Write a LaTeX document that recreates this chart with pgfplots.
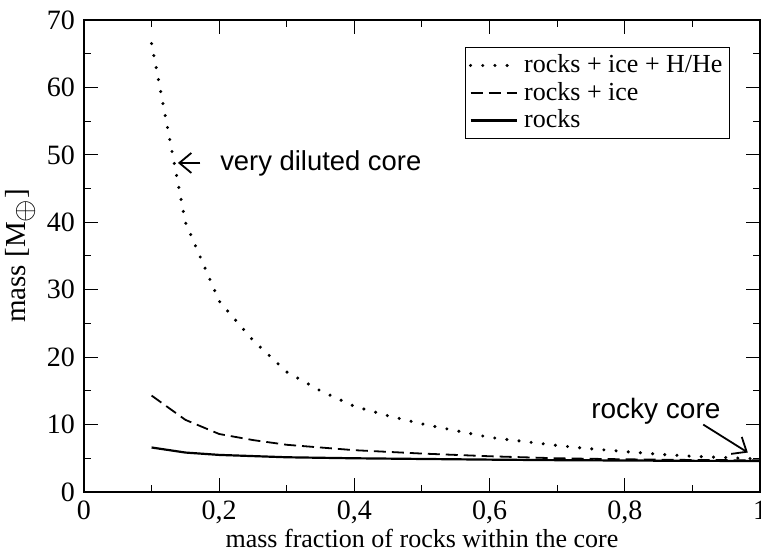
\documentclass[border=0pt]{standalone}
\usepackage{fontspec}
\setmainfont{Liberation Serif}
\newfontfamily\arialf{Liberation Sans}
\usepackage{pgfplots}
\pgfplotsset{compat=1.18}
\usetikzlibrary{calc,arrows.meta}

% mass of the core vs rock fraction
\pgfplotstableread{
x     y
0.10  66.5
0.15  40.0
0.20  28.3
0.25  22.5
0.30  17.8
0.35  15.0
0.40  12.7
0.45  11.3
0.50  10.1
0.55   9.1
0.60   8.1
0.65   7.5
0.70   6.9
0.75   6.4
0.80   6.0
0.85   5.6
0.90   5.3
0.95   5.1
1.00   4.9
}\hhe
\pgfplotstableread{
x     y
0.10  14.3
0.15  10.7
0.20   8.6
0.25   7.7
0.30   7.0
0.40   6.2
0.50   5.7
0.60   5.3
0.70   5.0
0.80   4.85
0.90   4.75
1.00   4.7
}\ice
\pgfplotstableread{
x     y
0.10  6.6
0.15  5.85
0.20  5.5
0.30  5.15
0.40  5.0
0.50  4.9
0.60  4.8
0.70  4.72
0.80  4.67
0.90  4.62
1.00  4.6
}\rocks

\begin{document}
\fontsize{13}{15.6}\selectfont
\begin{tikzpicture}
\begin{axis}[
  scale only axis, width=338pt, height=236pt,
  xmin=0, xmax=1, ymin=0, ymax=70,
  xtick={0,0.2,0.4,0.6,0.8,1}, ytick={0,10,...,70},
  minor x tick num=1, minor y tick num=1,
  tick align=inside,
  major tick length=7pt, minor tick length=3.5pt,
  every tick/.style={black, line width=0.5pt},
  axis line style={line width=1pt},
  /pgf/number format/assume math mode=true,
  /pgf/number format/use comma,
  tick label style={font=\fontsize{14}{16}\selectfont},
  x tick label style={/pgf/number format/fixed},
  xlabel={mass fraction of rocks within the core},
  ylabel={mass [M$_{\textstyle\oplus}$]},
  xlabel style={yshift=6.5pt},
  ylabel style={yshift=-3pt, font=\fontsize{14.5}{16}\selectfont},
  legend cell align=left,
  legend style={at={(1,1)}, anchor=north east, xshift=-15pt, yshift=-13.5pt,
    draw=black, line width=0.5pt, inner sep=1.5pt, row sep=-1.2pt,
    font=\fontsize{13}{14.5}\selectfont,
    /tikz/every odd column/.append style={column sep=1pt}},
  legend image code/.code={\draw[#1] (0pt,0pt) -- (23pt,0pt);},
]
\addplot[black, line width=1.7pt, line cap=round, dash pattern=on 0pt off 6.1pt] table[x=x,y=y] {\hhe};
\addlegendentry{rocks + ice + H/He}
\addplot[black, line width=0.9pt, dash pattern=on 6pt off 3pt] table[x=x,y=y] {\ice};
\addlegendentry{rocks + ice}
\addplot[black, line width=1.1pt] table[x=x,y=y] {\rocks};
\addlegendentry{rocks}

\draw[line width=0.9pt, -{Straight Barb[length=6pt,width=10pt]}] (axis cs:0.172,48.8) -- (axis cs:0.139,48.8);
\node[anchor=west, font=\arialf\fontsize{13.7}{16}\selectfont, inner sep=0pt] at (axis cs:0.201,48.8) {very diluted core};
\node[font=\arialf\fontsize{14}{16}\selectfont, inner sep=0pt] at (axis cs:0.846,11.9) {rocky core};
\draw[line width=0.9pt, -{Straight Barb[length=6pt,width=10pt]}] (axis cs:0.916,10.0) -- (axis cs:0.982,5.85);

\coordinate (sw) at (rel axis cs:0,0);
\coordinate (ne) at (rel axis cs:1,1);
\end{axis}
\pgfresetboundingbox
\path[use as bounding box] ($(sw)+(-42pt,-29.75pt)$) rectangle ($(ne)+(0.5pt,10pt)$);
\end{tikzpicture}
\end{document}
